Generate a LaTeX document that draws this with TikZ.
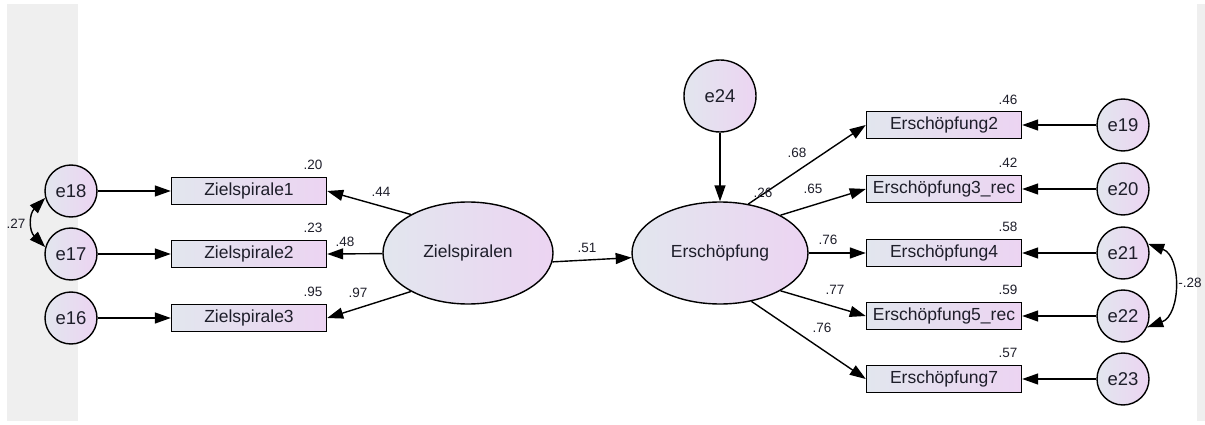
\documentclass[tikz,border=0pt]{standalone}
\usepackage{fontspec}
\setmainfont{Liberation Sans}
\usetikzlibrary{shapes.geometric,arrows.meta}
\definecolor{paneGray}{HTML}{EFEFEF}
\definecolor{shadeL}{HTML}{E2E6EE}
\definecolor{shadeR}{HTML}{ECD4F2}
\definecolor{inkText}{HTML}{1E1E2A}
\tikzset{
  errvar/.style={circle, draw, line width=1.4pt, minimum size=52pt, inner sep=0pt,
    left color=shadeL, right color=shadeR, text=inkText, font=\fontsize{18.5}{20}\selectfont},
  item/.style={rectangle, draw, line width=1.4pt, minimum width=155pt, minimum height=27pt, inner sep=0pt,
    left color=shadeL, right color=shadeR, text=inkText, font=\fontsize{17.5}{20}\selectfont},
  factor/.style={ellipse, draw, line width=1.4pt, minimum height=102pt, inner sep=0pt,
    left color=shadeL, right color=shadeR, text=inkText, font=\fontsize{17.5}{20}\selectfont},
  coef/.style={inner sep=0pt, text=inkText, font=\fontsize{13.5}{15}\selectfont},
  path/.style={->, line width=1.4pt},
  cov/.style={<->, line width=1.4pt}
}
\begin{document}
\begin{tikzpicture}[x=1pt, y=-1pt, >={Triangle[length=16pt,width=11pt]}]
  \useasboundingbox (0,0) rectangle (1205,425);
  \fill[paneGray] (7,4) rectangle (78,421);
  \fill[paneGray] (1197,4) rectangle (1205,421);

  % Zielspiralen with its three items
  \node[errvar] (e18) at (71,191) {e18};
  \node[errvar] (e17) at (71,254) {e17};
  \node[errvar] (e16) at (71,318) {e16};
  \node[item] (z1) at (249,191) {Zielspirale1};
  \node[item] (z2) at (249,254) {Zielspirale2};
  \node[item] (z3) at (249,318) {Zielspirale3};
  \node[factor, minimum width=170pt] (zs) at (468,253) {Zielspiralen};

  \draw[path] (e18) -- (z1);
  \draw[path] (e17) -- (z2);
  \draw[path] (e16) -- (z3);
  \draw[path] (zs.146) -- (z1.east);
  \draw[path] (zs) -- (z2.east);
  \draw[path] (zs.214) -- (z3.east);
  \draw[cov] (e18.195) to[out=225,in=135,looseness=1.2] (e17.165);

  \node[coef] (r1) at (313,165) {.20};
  \node[coef] (r2) at (313,228) {.23};
  \node[coef] (r3) at (313,292) {.95};
  \node[coef] (l1) at (381,192) {.44};
  \node[coef] (l2) at (345,242) {.48};
  \node[coef] (l3) at (358,293) {.97};
  \node[coef] (c1) at (16,224) {.27};

  % Erschoepfung with its five items
  \node[factor, minimum width=176pt] (er) at (720,253) {Erschöpfung};
  \node[errvar, minimum size=72pt] (e24) at (720,96) {e24};
  \node[item] (x2) at (944,125) {Erschöpfung2};
  \node[item] (x3) at (944,189) {Erschöpfung3\_rec};
  \node[item] (x4) at (944,253) {Erschöpfung4};
  \node[item] (x5) at (944,316) {Erschöpfung5\_rec};
  \node[item] (x7) at (944,379) {Erschöpfung7};
  \node[errvar] (e19) at (1123,125) {e19};
  \node[errvar] (e20) at (1123,189) {e20};
  \node[errvar] (e21) at (1123,253) {e21};
  \node[errvar] (e22) at (1123,316) {e22};
  \node[errvar] (e23) at (1123,379) {e23};

  \draw[path] (zs.-6) -- (er.183);
  \draw[path] (e24) -- (er);
  \draw[path] (er.60) -- (x2.west);
  \draw[path] (er.32) -- (x3.west);
  \draw[path] (er) -- (x4.west);
  \draw[path] (er.-32) -- (x5.west);
  \draw[path] (er.-57) -- (x7.west);
  \draw[path] (e19) -- (x2);
  \draw[path] (e20) -- (x3);
  \draw[path] (e21) -- (x4);
  \draw[path] (e22) -- (x5);
  \draw[path] (e23) -- (x7);
  \draw[cov] (e21.20) to[out=-20,in=20,looseness=1.1] (e22.-25);

  \node[coef] (b1) at (587,248) {.51};
  \node[coef] (r24) at (763,193) {.26};
  \node[coef] (l4) at (797,153) {.68};
  \node[coef] (l5) at (813,189) {.65};
  \node[coef] (l6) at (828,240) {.76};
  \node[coef] (l7) at (835,290) {.77};
  \node[coef] (l8) at (822,328) {.76};
  \node[coef] (r4) at (1008,100) {.46};
  \node[coef] (r5) at (1008,163) {.42};
  \node[coef] (r6) at (1008,227) {.58};
  \node[coef] (r7) at (1008,290) {.59};
  \node[coef] (r8) at (1008,353) {.57};
  \node[coef] (c2) at (1190,283) {-.28};
\end{tikzpicture}
\end{document}
